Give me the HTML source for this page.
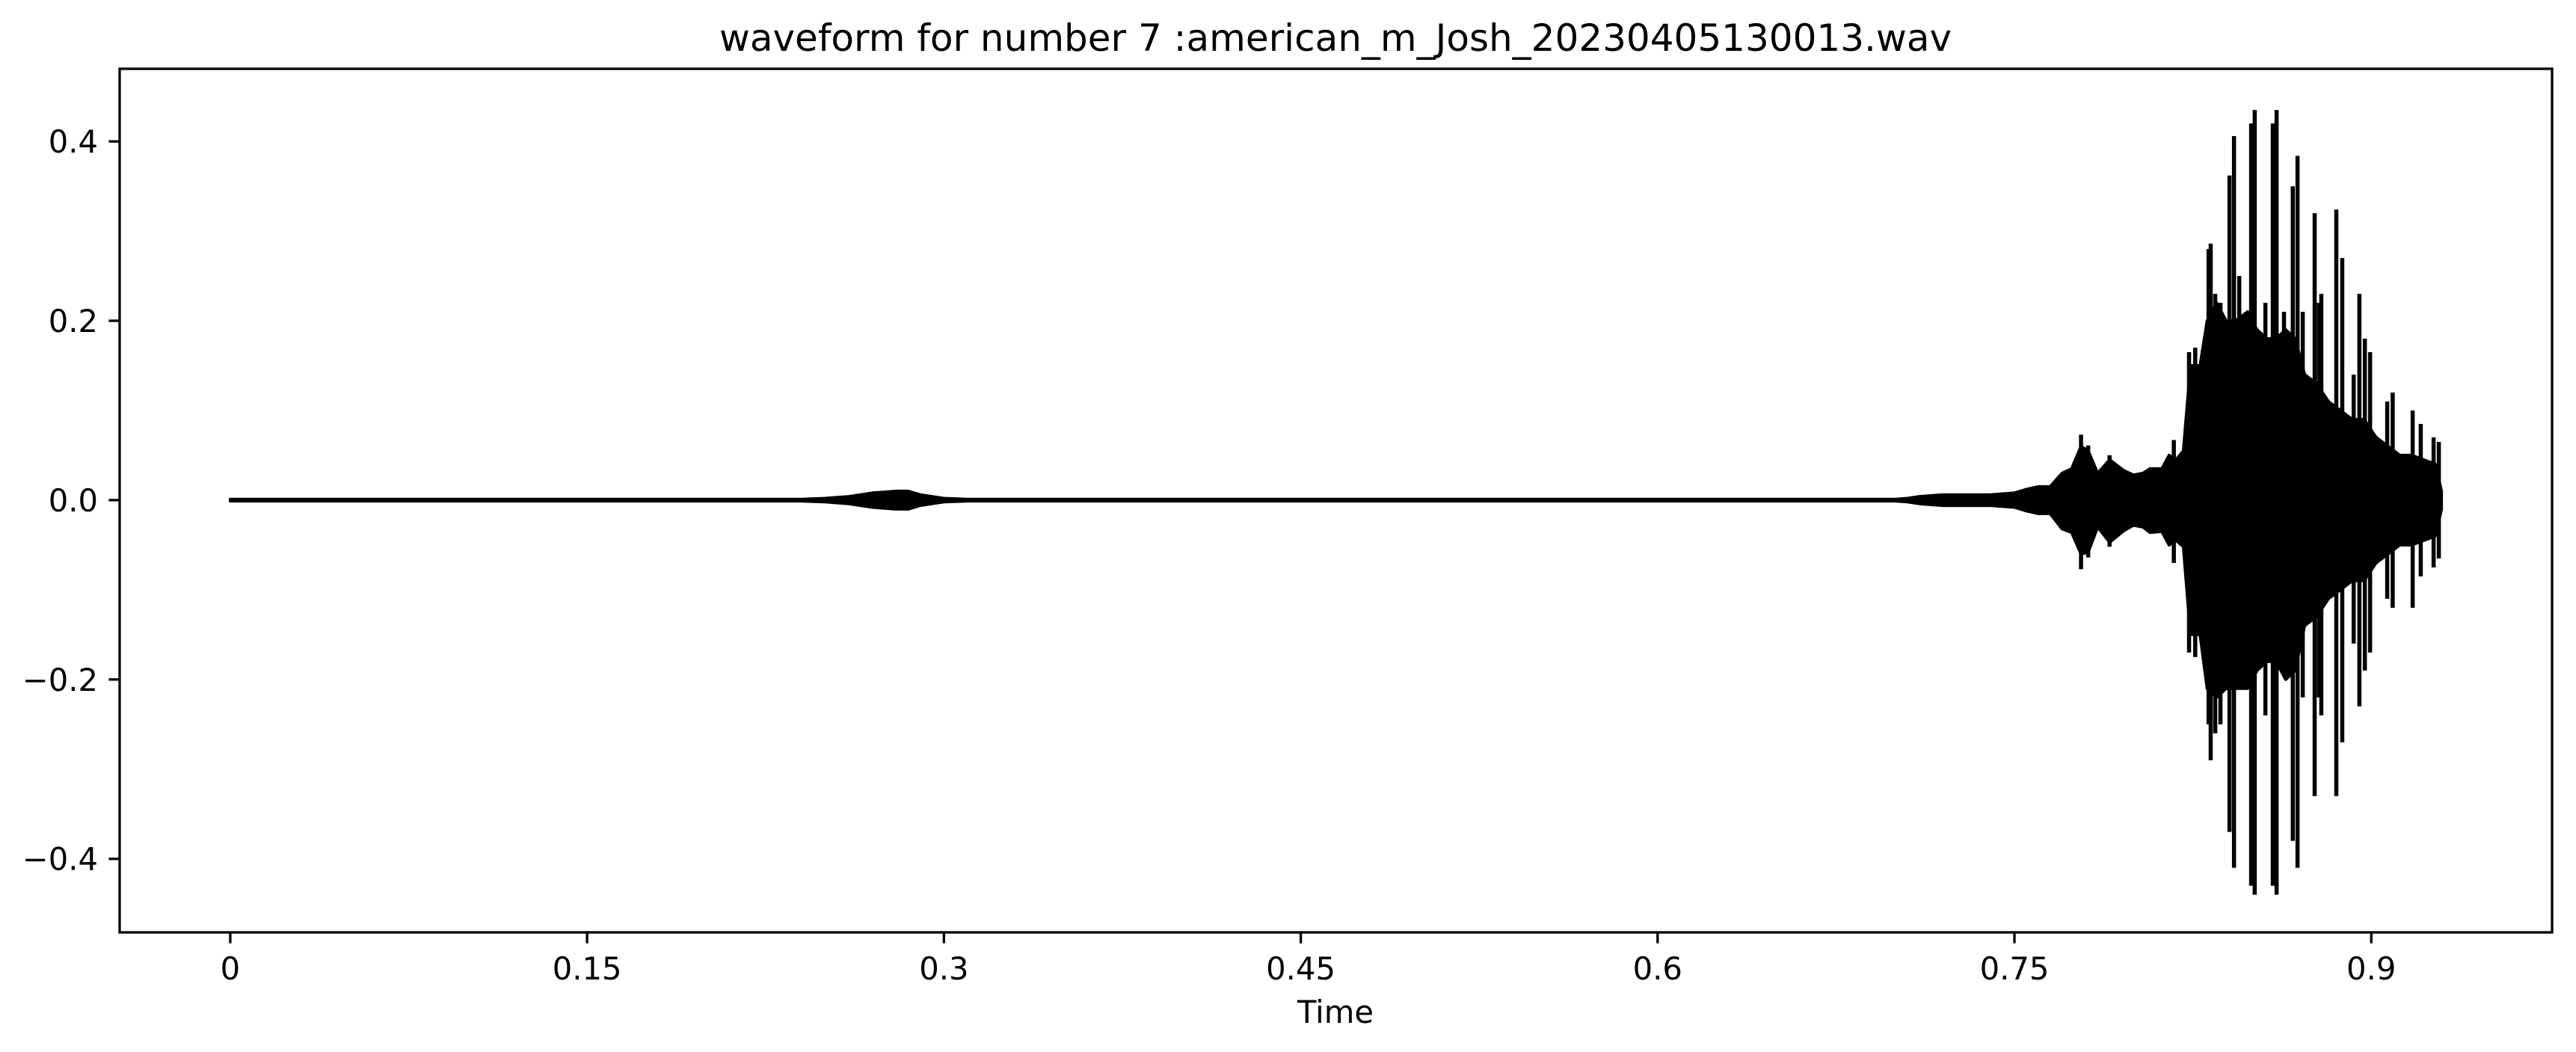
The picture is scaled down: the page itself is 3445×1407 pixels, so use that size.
<!DOCTYPE html>
<html><head><meta charset="utf-8">
<style>
html,body{margin:0;padding:0;background:#fff;}
svg{display:block;}
text{font-family:"DejaVu Sans","Liberation Sans",sans-serif;fill:#000;}
</style></head>
<body>
<svg id="chart" width="3445" height="1407" viewBox="0 0 3445 1407" xmlns="http://www.w3.org/2000/svg">
<rect x="0" y="0" width="3445" height="1407" fill="#fff"/>
<text x="1786" y="68" font-size="50" text-anchor="middle">waveform for number 7 :american_m_Josh_20230405130013.wav</text>
<g id="marks"></g>
<g id="axes"></g>
<text x="1786" y="1368" font-size="41.7" text-anchor="middle">Time</text>
</svg>
<script>
const xTicks = [0, 0.15, 0.3, 0.45, 0.6, 0.75, 0.9];
const xTickLabels = ["0", "0.15", "0.3", "0.45", "0.6", "0.75", "0.9"];
const yTicks = [-0.4, -0.2, 0, 0.2, 0.4];
const yTickLabels = ["\u22120.4", "\u22120.2", "0.0", "0.2", "0.4"];
const envT = [0,0.24,0.25,0.255,0.26,0.265,0.27,0.275,0.28,0.285,0.29,0.295,0.30,0.31,
 0.70,0.705,0.71,0.72,0.73,0.74,0.75,0.755,0.76,0.765,
 0.77,0.774,0.778,0.781,0.785,0.79,0.796,0.80,0.804,0.807,
 0.812,0.815,0.818,0.821,0.824,0.828,0.831,0.835,0.839,0.843,
 0.848,0.852,0.856,0.86,0.864,0.868,0.872,0.877,0.882,0.887,
 0.892,0.897,0.902,0.907,0.912,0.917,0.922,0.927,0.9295];
const envHi = [0.001,0.001,0.002,0.003,0.004,0.006,0.008,0.009,0.010,0.010,0.006,0.004,0.002,0.001,
 0.001,0.002,0.004,0.006,0.006,0.006,0.008,0.012,0.015,0.015,
 0.030,0.035,0.06,0.055,0.03,0.045,0.033,0.028,0.03,0.035,
 0.035,0.05,0.045,0.055,0.15,0.15,0.20,0.22,0.20,0.20,
 0.21,0.19,0.18,0.18,0.19,0.18,0.14,0.13,0.11,0.10,
 0.09,0.09,0.07,0.06,0.05,0.05,0.045,0.04,0.01];
const envLo = [-0.001,-0.001,-0.002,-0.003,-0.004,-0.006,-0.008,-0.009,-0.010,-0.010,-0.006,-0.004,-0.002,-0.001,
 -0.001,-0.002,-0.004,-0.006,-0.006,-0.006,-0.008,-0.012,-0.015,-0.015,
 -0.032,-0.036,-0.06,-0.058,-0.03,-0.047,-0.034,-0.028,-0.03,-0.036,
 -0.035,-0.05,-0.045,-0.052,-0.15,-0.15,-0.21,-0.22,-0.21,-0.21,
 -0.21,-0.19,-0.18,-0.18,-0.20,-0.19,-0.14,-0.13,-0.11,-0.10,
 -0.09,-0.09,-0.07,-0.06,-0.05,-0.05,-0.045,-0.04,-0.01];
const spikeT = [0.778,0.781,0.790,0.817,0.8234,0.826,0.8316,0.8325,0.8344,0.8366,0.8404,0.8423,0.8445,0.8495,0.851,0.8555,0.8586,0.8602,0.8633,0.867,0.869,0.8712,0.8762,0.878,0.879,0.8853,0.8878,0.8926,0.895,0.8973,0.8995,0.9067,0.909,0.9174,0.9208,0.9262,0.9284];
const spikeHi = [0.073,0.061,0.05,0.067,0.165,0.17,0.28,0.286,0.23,0.22,0.362,0.406,0.25,0.42,0.435,0.22,0.42,0.435,0.21,0.35,0.384,0.21,0.32,0.22,0.23,0.324,0.27,0.14,0.23,0.18,0.165,0.11,0.12,0.10,0.085,0.07,0.065];
const spikeLo = [-0.077,-0.064,-0.052,-0.07,-0.17,-0.175,-0.25,-0.29,-0.26,-0.25,-0.37,-0.41,-0.2,-0.43,-0.44,-0.24,-0.43,-0.44,-0.18,-0.38,-0.41,-0.22,-0.33,-0.22,-0.24,-0.33,-0.27,-0.16,-0.23,-0.19,-0.17,-0.11,-0.12,-0.12,-0.085,-0.075,-0.065];

const NS = "http://www.w3.org/2000/svg";
const L = 160, R = 3413, T = 92, B = 1247;
const xMin = -0.0465, xMax = 0.976, yMin = -0.482, yMax = 0.481;
function xs(v){ return L + (v - xMin) / (xMax - xMin) * (R - L); }
function ys(v){ return B - (v - yMin) / (yMax - yMin) * (B - T); }
function mk(tag, attrs, parent){
  const e = document.createElementNS(NS, tag);
  for (const k in attrs) e.setAttribute(k, attrs[k]);
  parent.appendChild(e);
  return e;
}
const marks = document.getElementById('marks');
const axes = document.getElementById('axes');

const base = mk('line', {x1: xs(envT[0]), x2: xs(envT[envT.length-1]), y1: ys(0), y2: ys(0), stroke: '#000', 'stroke-width': 4.5}, marks);



let pts = [];
for (let i = 0; i < envT.length; i++) pts.push(xs(envT[i]).toFixed(1) + ',' + ys(envHi[i]).toFixed(1));
for (let i = envT.length - 1; i >= 0; i--) pts.push(xs(envT[i]).toFixed(1) + ',' + ys(envLo[i]).toFixed(1));
const env = mk('polygon', {points: pts.join(' '), fill: '#000', stroke: '#000', 'stroke-width': 4, 'stroke-linejoin': 'round'}, marks);



for (let i = 0; i < spikeT.length; i++) {
  const s = mk('line', {x1: xs(spikeT[i]), x2: xs(spikeT[i]), y1: ys(spikeHi[i]), y2: ys(spikeLo[i]), stroke: '#000', 'stroke-width': 5.5}, marks);
  
  
}

const frame = mk('rect', {x: L, y: T, width: R - L, height: B - T, fill: 'none', stroke: '#000', 'stroke-width': 3.3}, axes);



for (let i = 0; i < xTicks.length; i++) {
  const x = xs(xTicks[i]);
  const t = mk('line', {x1: x, x2: x, y1: B, y2: B + 14.6, stroke: '#000', 'stroke-width': 3.3}, axes);
  
  
  const lb = mk('text', {x: x, y: 1310, 'font-size': 41.7, 'text-anchor': 'middle'}, axes);
  lb.textContent = xTickLabels[i];
  
  
}
for (let i = 0; i < yTicks.length; i++) {
  const y = ys(yTicks[i]);
  const t = mk('line', {x1: L - 14.6, x2: L, y1: y, y2: y, stroke: '#000', 'stroke-width': 3.3}, axes);
  
  
  const lb = mk('text', {x: 131, y: y + 15, 'font-size': 41.7, 'text-anchor': 'end'}, axes);
  lb.textContent = yTickLabels[i];
  
  
}
</script>
</body></html>
